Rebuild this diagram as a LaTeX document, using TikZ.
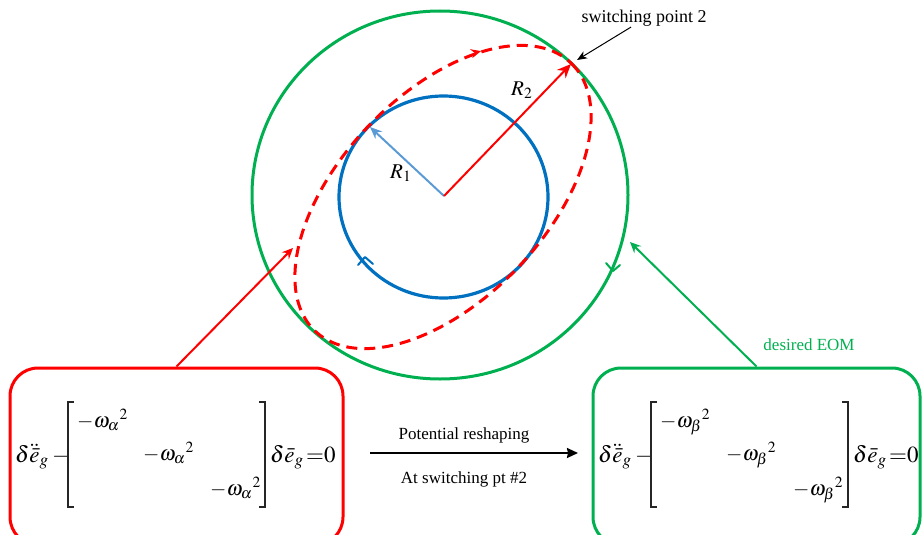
\documentclass[tikz,border=0pt]{standalone}
\usepackage{mathptmx}
\usepackage{fontspec}
\setmainfont{Liberation Serif}
\usetikzlibrary{arrows.meta}
\definecolor{cred}{RGB}{255,0,0}
\definecolor{cgreen}{RGB}{0,176,80}
\definecolor{cblue}{RGB}{0,112,192}
\definecolor{clblue}{RGB}{91,155,213}
\newcommand\myeqrow[3]{%
 \begin{scope}[xshift=#2pt]
 \node[eqbig] (#1a) at (15,462) {$\delta\ddot{\bar{e}}_g$};
 \node[eqbig] (#1m) at (52,462) {$-$};
 \draw[brk] (74,402) -- (68,402) -- (68,507) -- (74,507);
 \draw[brk] (259,402) -- (265,402) -- (265,507) -- (259,507);
 \node[eqent] (#1e1) at (77,427) {$-\omega_{#3}{}^{2}$};
 \node[eqent] (#1e2) at (143,460) {$-\omega_{#3}{}^{2}$};
 \node[eqent] (#1e3) at (210,495) {$-\omega_{#3}{}^{2}$};
 \node[eqbig] (#1b) at (270,462) {$\delta\bar{e}_g$};
 \node[eqbig] (#1q) at (306,462) {$=$};
 \node[eqbig] (#1z) at (324,462) {$0$};
 \end{scope}}
\begin{document}
\begin{tikzpicture}[x=1pt,y=-1pt,
  lbl/.style={font=\fontsize{17}{20}\selectfont, inner sep=0},
  eqbig/.style={font=\fontsize{23}{28}\selectfont, inner sep=0, anchor=base west},
  eqent/.style={font=\fontsize{21}{25}\selectfont, inner sep=0, anchor=base west},
  brk/.style={line width=1.2pt, black!85},
  conn/.style={line width=2pt},
  boxst/.style={line width=3pt, rounded corners=28pt, minimum height=177pt, inner sep=0},
  chev/.style={line width=2pt, line cap=round, line join=round}
]
\useasboundingbox (0,0) rectangle (923,535);

% circles
\draw[cgreen, line width=3pt] (440,195) ellipse [x radius=188, y radius=184];
\draw[cblue, line width=3.2pt] (443.5,197) ellipse [x radius=104.5, y radius=101];
\draw[cred, line width=3pt, dash pattern=on 11pt off 7pt]
  plot[domain=0:360, samples=144, smooth] ({443+129*cos(\x)+72.8*sin(\x)}, {197-133*cos(\x)+72.8*sin(\x)});

% direction marks
\draw[cred, line width=2pt, -{Stealth[length=10pt,width=9pt]}] (476,52.4) -- (481,51.1);
\draw[cblue, chev] (358,265) -- (365,257) -- (373,264);
\draw[cgreen, chev] (606,263) -- (613,271) -- (620,265);

% radii
\coordinate (o) at (444,196);
\coordinate (r1) at (370,127);
\coordinate (r2) at (571,64);
\draw[clblue, conn, -{Stealth[length=12pt,width=10pt]}] (o) -- (r1);
\draw[cred, conn, -{Stealth[length=14pt,width=12pt]}] (o) -- (r2);
\node[eqent, anchor=base west] (lr1) at (390,178) {$R_1$};
\node[eqent, anchor=base west] (lr2) at (511,95) {$R_2$};

% switching point label
\node[lbl, anchor=base, font=\fontsize{18}{21}\selectfont] (sw) at (644,23) {switching point 2};
\coordinate (swp) at (577,60);
\draw[line width=1pt, -{Stealth[length=10pt,width=8pt,inset=3pt]}] ([xshift=-13pt]sw.south) -- (swp);

% boxes
\node[boxst, draw=cred, minimum width=333pt] (redbox) at (176.5,456.5) {};
\node[boxst, draw=cgreen, minimum width=327pt] (greenbox) at (756.5,456.5) {};

% connectors from boxes
\coordinate (rt) at (293,248);
\coordinate (gt) at (630,242);
\draw[cred, conn, -{Stealth[length=11pt,width=10pt,inset=4pt]}] (redbox.north) -- (rt);
\draw[cgreen, conn, -{Stealth[length=11pt,width=10pt,inset=4pt]}] (greenbox.north) -- (gt);
\node[lbl, anchor=base, text=cgreen] (eom) at (809,350) {desired EOM};

% middle arrow
\coordinate (ma) at (370,453);
\coordinate (mb) at (578,453);
\draw[conn, -{Stealth[length=11pt,width=10pt,inset=1pt]}] (ma) -- (mb);
\node[lbl, anchor=base] (pr) at (464,439) {Potential reshaping};
\node[lbl, anchor=base] (as) at (464,483) {At switching pt \#2};

% equations
\myeqrow{L}{0}{\alpha}
\myeqrow{R}{583}{\beta}
\end{tikzpicture}
\end{document}
